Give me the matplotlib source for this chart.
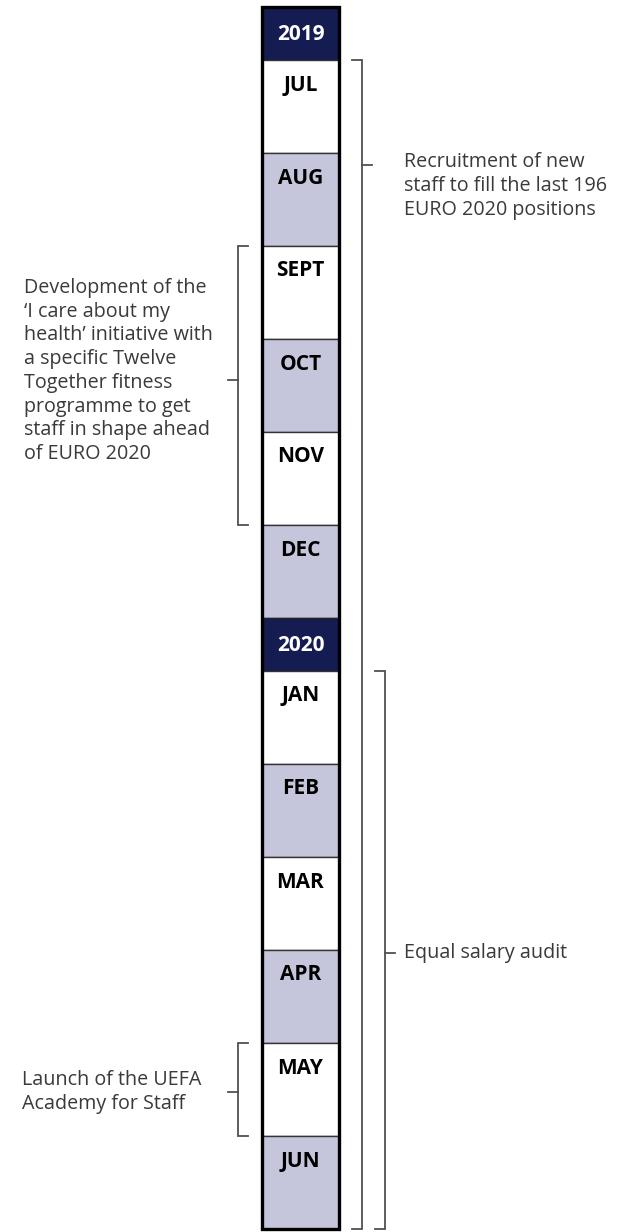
import matplotlib
matplotlib.use("Agg")
import matplotlib.pyplot as plt

# timeline rows (top to bottom)
years = ["2019", "2020"]
months_2019 = ["JUL", "AUG", "SEPT", "OCT", "NOV", "DEC"]
months_2020 = ["JAN", "FEB", "MAR", "APR", "MAY", "JUN"]

# events: (first month, last month, side, text)
event_first = ["JUL", "JAN", "SEPT", "MAY"]
event_last = ["JUN", "JUN", "NOV", "MAY"]
event_side = ["right", "right", "left", "left"]
event_text = [
    "Recruitment of new\nstaff to fill the last 196\nEURO 2020 positions",
    "Equal salary audit",
    "Development of the\n\u2018I care about my\nhealth\u2019 initiative with\na specific Twelve\nTogether fitness\nprogramme to get\nstaff in shape ahead\nof EURO 2020",
    "Launch of the UEFA\nAcademy for Staff",
]

NAVY = "#141c52"
LAV = "#c5c6dc"
TXT = "#3a3a3a"
LINE = "#505050"

W, H = 617, 1232
fig = plt.figure(figsize=(W / 100, H / 100), dpi=100)
ax = fig.add_axes([0, 0, 1, 1])
ax.set_xlim(0, W)
ax.set_ylim(H, 0)
ax.axis("off")

x0, x1 = 262, 339
head_h, month_h = 53, 93
y = 7
row_top = {}
row_bot = {}
top_all = y
for yr, months in zip(years, [months_2019, months_2020]):
    ax.add_patch(plt.Rectangle((x0, y), x1 - x0, head_h, facecolor=NAVY,
                               edgecolor="#222222", lw=1))
    ax.text((x0 + x1) / 2, y + head_h / 2 + 1, yr, color="white",
            fontsize=15, fontweight="bold", ha="center", va="center",
            family="Open Sans")
    y += head_h
    for i, m in enumerate(months):
        fc = "white" if i % 2 == 0 else LAV
        ax.add_patch(plt.Rectangle((x0, y), x1 - x0, month_h, facecolor=fc,
                                   edgecolor="#333333", lw=1))
        ax.text((x0 + x1) / 2, y + 25, m, color="black", fontsize=15,
                fontweight="bold", ha="center", va="center",
                family="Open Sans")
        row_top[m] = y
        row_bot[m] = y + month_h
        y += month_h
# thick outer border
ax.add_patch(plt.Rectangle((x0, top_all), x1 - x0, y - top_all,
                           facecolor="none", edgecolor="black", lw=2.4))

# bracket layout: vertical x, tick y, text x, text centre y
br_x = [362, 385, 238, 238]
tick_y = [165, 953, 380, 1092]
text_x = [404, 404, 24, 22]
text_y = [186, 953, 371, 1092]

for k in range(len(event_text)):
    top = row_top[event_first[k]]
    bot = row_bot[event_last[k]]
    bx = br_x[k]
    s = 1 if event_side[k] == "right" else -1
    ax.plot([bx - s * 10, bx, bx, bx - s * 10], [top, top, bot, bot],
            color=LINE, lw=1.3, solid_joinstyle="miter")
    ax.plot([bx, bx + s * 10], [tick_y[k], tick_y[k]], color=LINE, lw=1.3)
    ax.text(text_x[k], text_y[k], event_text[k], color=TXT, fontsize=14.2,
            ha="left", va="center", linespacing=1.25, family="Open Sans")

fig.savefig("out.png", dpi=100)
